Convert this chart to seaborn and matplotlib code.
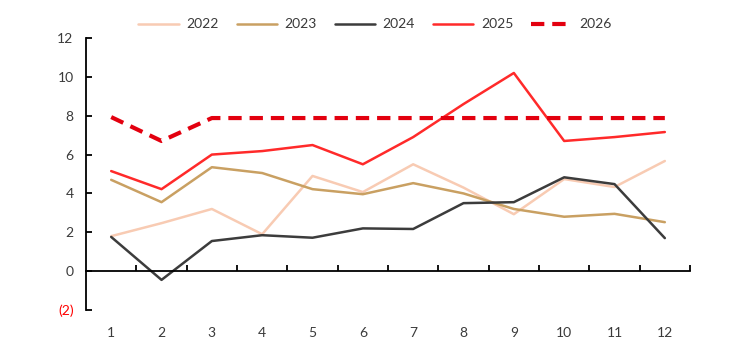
import matplotlib
matplotlib.use("Agg")
import matplotlib.pyplot as plt
import seaborn as sns
import pandas as pd
import numpy as np
from matplotlib.ticker import FixedLocator

months = list(range(1, 13))
y2022 = [1.80, 2.47, 3.20, 1.90, 4.90, 4.07, 5.50, 4.30, 2.93, 4.74, 4.33, 5.67]
y2023 = [4.70, 3.55, 5.35, 5.05, 4.22, 3.96, 4.53, 4.00, 3.20, 2.80, 2.95, 2.52]
y2024 = [1.76, -0.45, 1.55, 1.85, 1.72, 2.20, 2.17, 3.50, 3.55, 4.83, 4.48, 1.70]
y2025 = [5.15, 4.22, 6.00, 6.18, 6.49, 5.50, 6.90, 8.60, 10.20, 6.70, 6.90, 7.16]
y2026 = [7.93, 6.70, 7.88, 7.88, 7.88, 7.88, 7.88, 7.88, 7.88, 7.88, 7.88, 7.88]
series_names = ["2022", "2023", "2024", "2025", "2026"]
yticks = [-2, 0, 2, 4, 6, 8, 10, 12]
ytick_labels = ["(2)", "0", "2", "4", "6", "8", "10", "12"]

sns.set_theme(style="white")
plt.rcParams["font.family"] = ["Lato", "DejaVu Sans"]
TEXT = "#3A3A3A"

df = pd.DataFrame({
    "month": months * 5,
    "value": y2022 + y2023 + y2024 + y2025 + y2026,
    "year": sum([[n] * 12 for n in series_names], []),
})

colors = {"2022": "#F8CBB3", "2023": "#C9A062", "2024": "#3C3C3C",
          "2025": "#FF2A2A", "2026": "#E3000F"}
widths = {"2022": 1.8, "2023": 1.8, "2024": 1.8, "2025": 1.8, "2026": 3.0}

fig = plt.figure(figsize=(7.5, 3.5), dpi=100)
ax = fig.add_axes([0.1147, 0.1143, 0.92 - 0.1147, 0.8914 - 0.1143])

for name in series_names:
    sub = df[df["year"] == name]
    sns.lineplot(data=sub, x="month", y="value", color=colors[name],
                 linewidth=widths[name], ax=ax, label=name, legend=False)
ax.lines[-1].set_dashes([3.2, 1.9])
ax.lines[-1].set_solid_capstyle("butt")

ax.set_xlim(0.5, 12.5)
ax.set_ylim(-2, 12)
ax.set_xlabel("")
ax.set_ylabel("")

ax.spines["top"].set_visible(False)
ax.spines["right"].set_visible(False)
ax.spines["bottom"].set_position(("data", 0))
for s in ["left", "bottom"]:
    ax.spines[s].set_color("black")
    ax.spines[s].set_linewidth(1.3)

ax.set_yticks(yticks)
ax.set_yticklabels(ytick_labels, fontsize=10, color=TEXT)
ax.get_yticklabels()[0].set_color("#FF0000")
ax.tick_params(axis="y", direction="in", length=4, width=1.3, color="black",
               left=True, pad=9)

ax.set_xticks(months)
ax.set_xticklabels([str(m) for m in months], fontsize=10, color=TEXT)
ax.xaxis.set_minor_locator(FixedLocator([m + 0.5 for m in months]))
ax.tick_params(axis="x", which="major", length=0, pad=40)
ax.tick_params(axis="x", which="minor", direction="in", length=4, width=1.3,
               color="black", bottom=True)
ax.grid(False)

handles = ax.lines[:5]
leg = fig.legend(handles, series_names, loc="upper center",
                 bbox_to_anchor=(0.5, 0.983), ncol=5, frameon=False,
                 fontsize=10, handlelength=2.9, columnspacing=1.3,
                 handletextpad=0.55, labelcolor=TEXT)

fig.savefig("out.png", dpi=100)
